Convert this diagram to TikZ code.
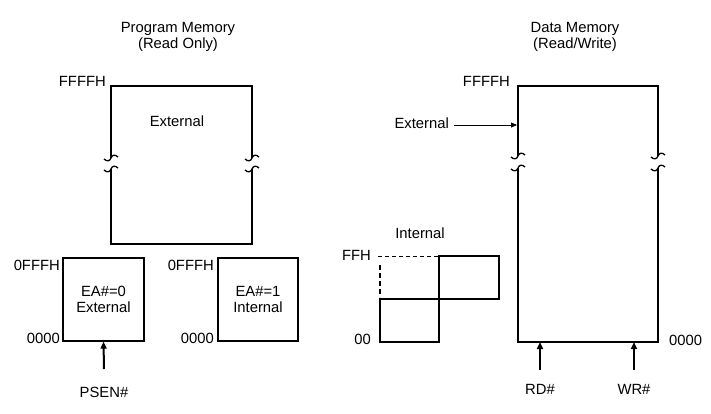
\documentclass[tikz,border=0pt]{standalone}
\usepackage{fontspec}
\setmainfont{Liberation Sans}
\usetikzlibrary{arrows.meta}
\begin{document}
\begin{tikzpicture}[x=1pt,y=-1pt,
  lbl/.style={inner sep=0pt,font=\fontsize{14.8}{16.5}\selectfont},
  box/.style={draw,line width=1.3pt},
  thickbox/.style={draw,line width=1.8pt},
  sig/.style={line width=2pt,-{Triangle[length=7pt,width=6pt]}},
  thinarr/.style={line width=0.8pt,-{Triangle[length=6pt,width=5pt]}},
  brk/.style={line width=1.3pt},
  dsh/.style={dashed,line width=1pt,dash pattern=on 4pt off 3pt}]
\useasboundingbox (0,0) rectangle (711,414);
\fill[white] (0,0) rectangle (711,414);
\newcommand{\tildebrk}[2]{%
  \draw[brk] (#1-7,#2+1) .. controls (#1-4,#2+4) and (#1-1,#2+3) .. (#1,#2)
     .. controls (#1+1,#2-3) and (#1+4,#2-4) .. (#1+7,#2-1);}
% ---------- Program memory ----------
\node[lbl,align=center] (pmt) at (178,37) {Program Memory\\(Read Only)};
\node[lbl,anchor=east] (pff) at (106,81) {FFFFH};
\draw[box] (111,158) -- (111,86) -- (252,86) -- (252,158);
\draw[box] (111,169) -- (111,244) -- (252,244) -- (252,169);
\tildebrk{111}{158}\tildebrk{111}{169}
\tildebrk{252}{158}\tildebrk{252}{169}
\node[lbl] (pext) at (177,121) {External};
% lower boxes
\node[box,minimum width=81pt,minimum height=83pt,inner sep=0pt] (ea0) at (103.5,299.5) {};
\node[lbl,align=center] (ea0t) at (ea0) {EA\#=0\\External};
\node[lbl,anchor=east] (ea0ff) at (60,265) {0FFFH};
\node[lbl,anchor=east] (ea0z) at (60,338) {0000};
\node[box,minimum width=80pt,minimum height=83pt,inner sep=0pt] (ea1) at (258,299.5) {};
\node[lbl,align=center] (ea1t) at (ea1) {EA\#=1\\Internal};
\node[lbl,anchor=east] (ea1ff) at (214,265) {0FFFH};
\node[lbl,anchor=east] (ea1z) at (214,338) {0000};
\node[lbl] (psen) at (104,392) {PSEN\#};
\coordinate (psenS) at (104,369);
\draw[sig] (psenS) -- (ea0.south);
% ---------- Data memory ----------
\node[lbl,align=center] (dmt) at (575,37) {Data Memory\\(Read/Write)};
\node[lbl,anchor=east] (dff) at (510,81) {FFFFH};
\draw[thickbox] (518,156) -- (518,86) -- (658,86) -- (658,156);
\draw[thickbox] (518,168) -- (518,342) -- (658,342) -- (658,168);
\tildebrk{518}{156}\tildebrk{518}{168}
\tildebrk{658}{156}\tildebrk{658}{168}
\coordinate (dmleft) at (517,125);
\node[lbl,anchor=east] (dext) at (449,123) {External};
\draw[thinarr] (dext.east) ++(5,2) -- (dmleft);
\node[lbl,anchor=west] (dz) at (669,340) {0000};
\coordinate (rdS) at (540,370);
\coordinate (rdE) at (540,342);
\coordinate (wrS) at (634,370);
\coordinate (wrE) at (634,342);
\draw[sig] (rdS) -- (rdE);
\draw[sig] (wrS) -- (wrE);
\node[lbl] (rd) at (540,389) {RD\#};
\node[lbl] (wr) at (634,389) {WR\#};
% ---------- Internal ----------
\node[lbl] (intl) at (420,233) {Internal};
\node[lbl,anchor=east] (ffh) at (371,255) {FFH};
\node[lbl,anchor=east] (zz) at (371,339) {00};
\draw[box] (380,299) rectangle (439,342);
\draw[box] (439,256) rectangle (499,299);
\draw[line width=2.2pt] (380,299) -- (380,342);
\draw[dsh] (378,256) -- (439,256);
\draw[dash pattern=on 5pt off 3pt,line width=2.2pt] (380,265) -- (380,297);
\end{tikzpicture}
\end{document}
